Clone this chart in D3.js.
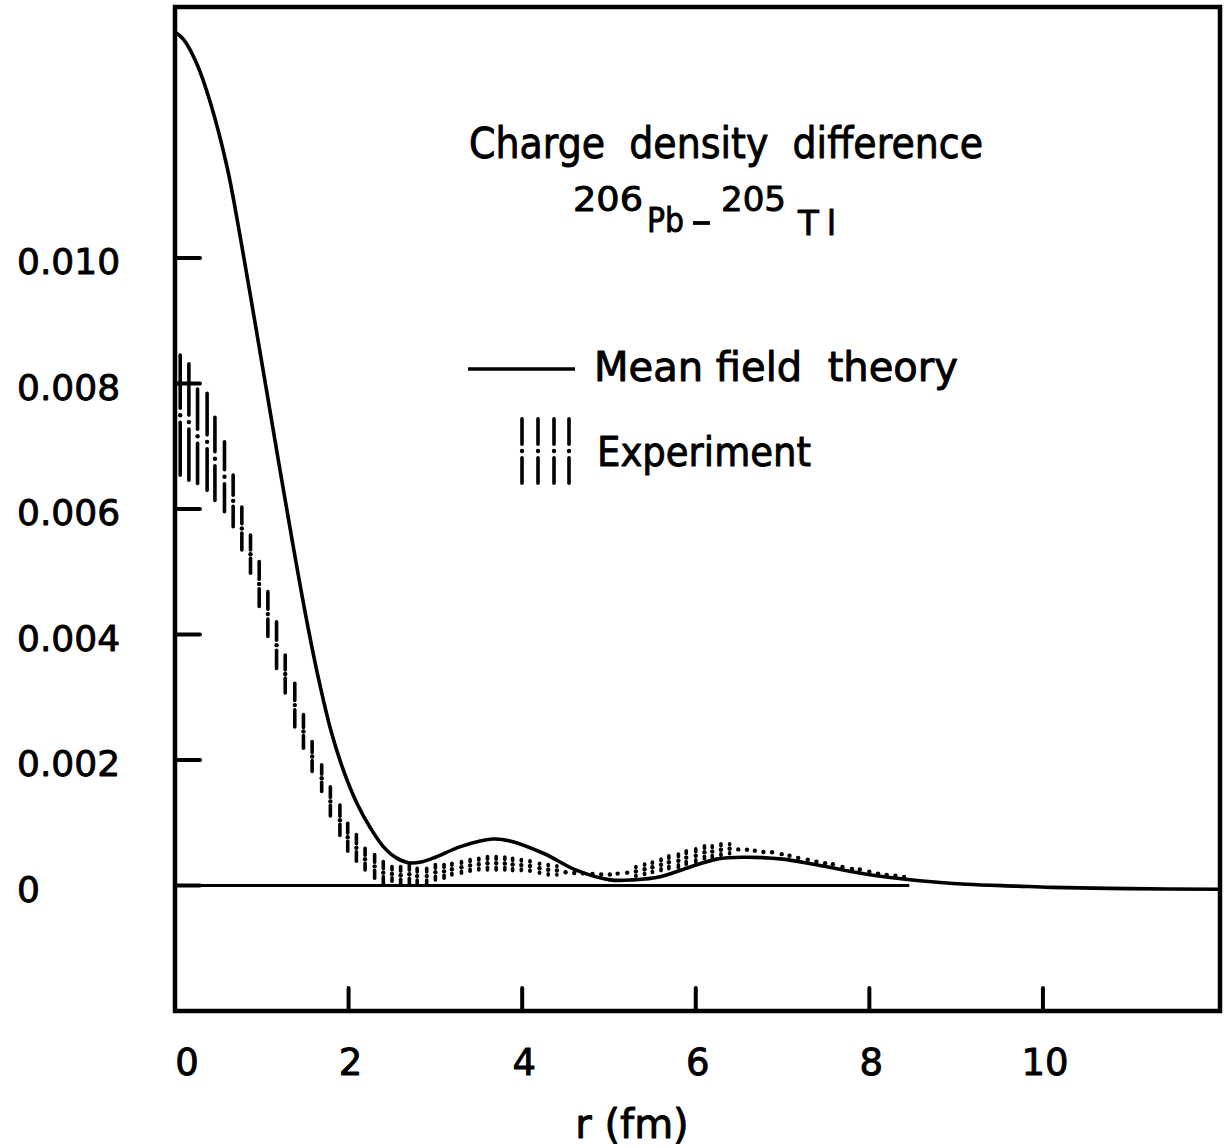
<!DOCTYPE html>
<html>
<head>
<meta charset="utf-8">
<script src="https://cdn.jsdelivr.net/npm/d3@7"></script>
<style>
  html, body { margin: 0; padding: 0; background: #fff; }
  svg { display: block; }
  text { font-family: "DejaVu Sans", sans-serif; fill: #000; stroke: #000; stroke-width: 0.9px; stroke-linejoin: round; }
</style>
</head>
<body>
<script>
// ---------- data (values in units of 1e-3 fm^-3) ----------
const rTheory = [0, 0.1, 0.25, 0.4, 0.6, 0.75, 0.9, 1.05, 1.2, 1.35, 1.5, 1.65, 1.8, 1.95, 2.1, 2.25, 2.4, 2.55, 2.7, 2.85, 3.0, 3.29, 3.66, 3.86, 4.25, 4.63, 5.01, 5.28, 5.59, 5.86, 6.24, 6.55, 7.0, 7.39, 7.97, 8.55, 9.12, 9.7, 10.1, 11, 12.04];
const vTheory = [13.6, 13.48, 13.1, 12.51, 11.45, 10.35, 9.15, 7.93, 6.7, 5.5, 4.35, 3.32, 2.45, 1.8, 1.3, 0.92, 0.62, 0.44, 0.36, 0.38, 0.45, 0.62, 0.74, 0.71, 0.51, 0.24, 0.09, 0.09, 0.14, 0.26, 0.42, 0.45, 0.42, 0.33, 0.18, 0.08, 0.02, -0.01, -0.03, -0.05, -0.06];

const rExp = [0.06, 0.16, 0.26, 0.37, 0.46, 0.57, 0.67, 0.77, 0.87, 0.97,
  1.07, 1.17, 1.27, 1.38, 1.48, 1.58, 1.69, 1.79, 1.90, 1.99,
  2.09, 2.19, 2.30, 2.40, 2.50, 2.60, 2.70, 2.79, 2.90, 3.00,
  3.10, 3.19, 3.30, 3.40, 3.50, 3.60, 3.70, 3.80, 3.89, 3.99,
  4.09, 4.20, 4.30, 4.40, 4.50, 4.60, 4.70, 4.81, 4.91, 5.01,
  5.10, 5.21, 5.31, 5.41, 5.50, 5.60, 5.69, 5.80, 5.89, 6.00,
  6.10, 6.19, 6.29, 6.39, 6.49, 6.59, 6.68, 6.78, 6.88, 6.99,
  7.08, 7.18, 7.29, 7.39, 7.49, 7.58, 7.69, 7.80, 7.89, 8.00,
  8.10, 8.20, 8.30, 8.40];
const expHi = [8.48, 8.34, 7.94, 7.87, 7.49, 7.10, 6.57, 6.06, 5.61, 5.19,
  4.71, 4.23, 3.70, 3.25, 2.75, 2.32, 1.95, 1.60, 1.31, 1.02,
  0.84, 0.62, 0.52, 0.41, 0.33, 0.33, 0.36, 0.30, 0.30, 0.36,
  0.36, 0.38, 0.41, 0.44, 0.46, 0.49, 0.49, 0.48, 0.46, 0.44,
  0.42, 0.38, 0.36, 0.34, 0.30, 0.28, 0.27, 0.25, 0.23, 0.23,
  0.28, 0.30, 0.33, 0.37, 0.40, 0.45, 0.50, 0.53, 0.58, 0.61,
  0.66, 0.66, 0.69, 0.69, 0.67, 0.66, 0.63, 0.62, 0.61, 0.58,
  0.55, 0.51, 0.48, 0.45, 0.42, 0.40, 0.35, 0.31, 0.30, 0.26,
  0.23, 0.21, 0.19, 0.17];
const expLo = [6.51, 6.43, 6.38, 6.27, 6.11, 5.93, 5.69, 5.32, 4.95, 4.42,
  3.94, 3.43, 3.04, 2.50, 2.16, 1.79, 1.47, 1.08, 0.77, 0.52,
  0.36, 0.22, 0.09, 0.00, 0.04, 0.00, 0.00, 0.00, 0.00, 0.06,
  0.09, 0.14, 0.17, 0.20, 0.22, 0.22, 0.22, 0.22, 0.21, 0.21,
  0.20, 0.17, 0.14, 0.14, 0.12, 0.12, 0.12, 0.12, 0.12, 0.12,
  0.10, 0.11, 0.12, 0.15, 0.18, 0.21, 0.24, 0.26, 0.31, 0.34,
  0.40, 0.42, 0.45, 0.48, 0.48, 0.48, 0.48, 0.45, 0.45, 0.42,
  0.40, 0.37, 0.34, 0.31, 0.29, 0.28, 0.24, 0.22, 0.21, 0.18,
  0.15, 0.13, 0.12, 0.10];

const xTickValues = [2, 4, 6, 8, 10];
const xTickLabels = ["0", "2", "4", "6", "8", "10"];
const xLabelValues = [0, 2, 4, 6, 8, 10];
const yTickValues = [0, 2, 4, 6, 8, 10];
const yTickLabels = ["0", "0.002", "0.004", "0.006", "0.008", "0.010"];
const zeroLineEnd = 8.46;

// ---------- setup ----------
const W = 1226, H = 1147;
const svg = d3.select("body").append("svg").attr("width", W).attr("height", H);
svg.append("rect").attr("width", W).attr("height", H).attr("fill", "#fff");

const x = d3.scaleLinear().domain([0, 12.04]).range([175, 1220]);
const y = d3.scaleLinear().domain([-2, 14]).range([1011, 7]);

// frame
svg.append("rect")
  .attr("x", x(0)).attr("y", y(14))
  .attr("width", x(12.04) - x(0)).attr("height", y(-2) - y(14))
  .attr("fill", "none").attr("stroke", "#000").attr("stroke-width", 4.5);

// y ticks
svg.append("g").selectAll("line").data(yTickValues).join("line")
  .attr("x1", x(0)).attr("x2", x(0) + 25)
  .attr("y1", d => y(d)).attr("y2", d => y(d))
  .attr("stroke", "#000").attr("stroke-width", 4).attr("stroke-linecap", "round");
svg.append("g").selectAll("text").data(yTickValues).join("text")
  .attr("x", 17).attr("y", d => y(d) + 16)
  .attr("font-size", 36)
  .text((d, i) => yTickLabels[i]);

// x ticks
svg.append("g").selectAll("line").data(xTickValues).join("line")
  .attr("x1", d => x(d)).attr("x2", d => x(d))
  .attr("y1", y(-2)).attr("y2", y(-2) - 23)
  .attr("stroke", "#000").attr("stroke-width", 4).attr("stroke-linecap", "round");
svg.append("g").selectAll("text").data(xLabelValues).join("text")
  .attr("x", d => x(d) + (d === 0 ? 12 : 2)).attr("y", 1075)
  .attr("text-anchor", "middle").attr("font-size", 37)
  .text((d, i) => xTickLabels[i]);

svg.append("text").attr("x", 632).attr("y", 1138)
  .attr("text-anchor", "middle").attr("font-size", 40)
  .text("r (fm)");

// zero line
svg.append("line")
  .attr("x1", x(0)).attr("x2", x(zeroLineEnd))
  .attr("y1", y(0)).attr("y2", y(0))
  .attr("stroke", "#000").attr("stroke-width", 3.2);

// experiment bars
function drawBar(g, xp, yTop, yBot) {
  const h = yBot - yTop;
  const ym = (yTop + yBot) / 2;
  const gap = Math.max(4, Math.min(7, h * 0.1));
  const cap = 1.7;
  const seg = [[yTop + cap, ym - gap], [ym + gap, yBot - cap]];
  seg.forEach(([a, b]) => {
    if (b - a > 0.3) {
      g.append("line").attr("x1", xp).attr("x2", xp).attr("y1", a).attr("y2", b)
        .attr("stroke", "#000").attr("stroke-width", 3.6).attr("stroke-linecap", "round");
    }
  });
  g.append("circle").attr("cx", xp).attr("cy", ym).attr("r", 2.2).attr("fill", "#000");
}
const expG = svg.append("g");
rExp.forEach((r, i) => drawBar(expG, x(r), y(expHi[i]), y(expLo[i])));

// theory curve
const line = d3.line().x(d => x(d[0])).y(d => y(d[1])).curve(d3.curveCatmullRom.alpha(0.5));
svg.append("path")
  .datum(rTheory.map((r, i) => [r, vTheory[i]]))
  .attr("d", line)
  .attr("fill", "none").attr("stroke", "#000").attr("stroke-width", 3.6)
  .attr("stroke-linejoin", "round");

// title
svg.append("text").attr("x", 469).attr("y", 158)
  .attr("font-size", 42).style("white-space", "pre")
  .attr("textLength", 514).attr("lengthAdjust", "spacingAndGlyphs")
  .text("Charge  density  difference");

const sub = svg.append("g");
sub.append("text").attr("x", 573).attr("y", 211).attr("font-size", 34)
  .attr("textLength", 70).attr("lengthAdjust", "spacingAndGlyphs").text("206");
sub.append("text").attr("x", 647).attr("y", 232).attr("font-size", 34)
  .attr("textLength", 37).attr("lengthAdjust", "spacingAndGlyphs").text("Pb");
sub.append("line").attr("x1", 693).attr("x2", 710).attr("y1", 223).attr("y2", 223)
  .attr("stroke", "#000").attr("stroke-width", 3.8);
sub.append("text").attr("x", 721).attr("y", 211).attr("font-size", 34)
  .attr("textLength", 65).attr("lengthAdjust", "spacingAndGlyphs").text("205");
sub.append("text").attr("x", 798).attr("y", 235).attr("font-size", 34)
  .attr("letter-spacing", 8).text("Tl");

// legend
svg.append("line").attr("x1", 468).attr("x2", 575).attr("y1", 369).attr("y2", 369)
  .attr("stroke", "#000").attr("stroke-width", 3.4);
svg.append("text").attr("x", 594).attr("y", 381)
  .attr("font-size", 40).style("white-space", "pre")
  .attr("textLength", 364).attr("lengthAdjust", "spacingAndGlyphs")
  .text("Mean field  theory");
const legG = svg.append("g");
[522, 538, 554, 569].forEach(xp => drawBar(legG, xp, 417, 485));
svg.append("text").attr("x", 597).attr("y", 466)
  .attr("font-size", 40)
  .attr("textLength", 214).attr("lengthAdjust", "spacingAndGlyphs")
  .text("Experiment");
</script>
</body>
</html>
